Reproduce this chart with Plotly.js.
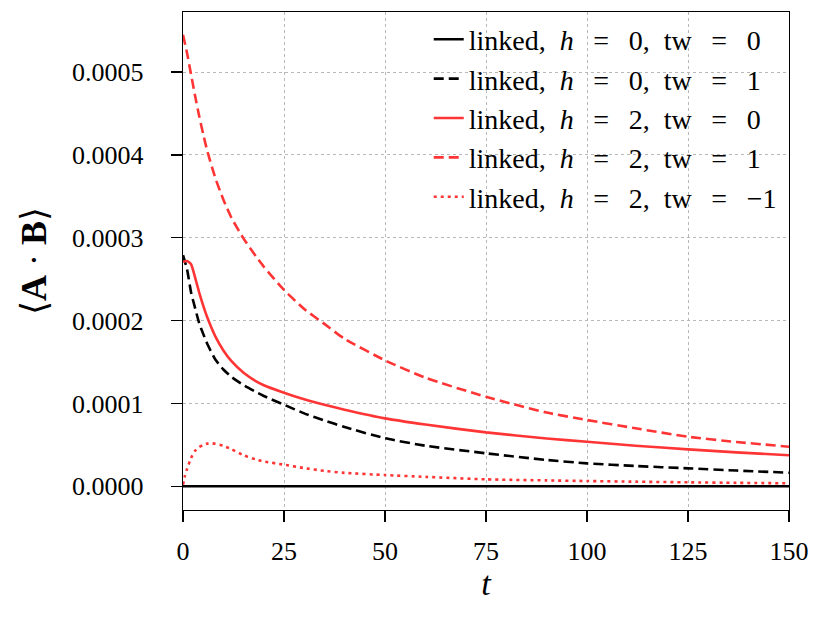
<!DOCTYPE html>
<html>
<head>
<meta charset="utf-8">
<script src="https://cdn.plot.ly/plotly-3.0.1.min.js"></script>
<style>
  body { margin: 0; background: white; }
  #chart { width: 830px; height: 623px; }
</style>
</head>
<body>
<div id="chart"></div>
<script>
// time grid
var t = [0, 1, 2, 3, 4, 5, 6, 8, 10, 12, 15, 18, 20, 25, 30, 35, 40, 50, 60, 75, 90, 100, 112, 125, 137, 150];
var tDot = [0, 0.5, 1, 2, 3, 4, 5, 6, 7, 8, 10, 12, 15, 18, 20, 25, 30, 35, 40, 50, 60, 75, 90, 100, 112, 125, 137, 150];
var tFlat = [0, 25, 50, 75, 100, 125, 150];

// <A.B> for each run
var h0tw0 = [0, 0, 0, 0, 0, 0, 0];
var h0tw1 = [0.000279, 0.000262, 0.000234, 0.000215, 0.000197, 0.000184, 0.000172, 0.000153, 0.000141, 0.000132,
             0.000122, 0.000114, 0.000109, 0.0000985, 0.0000880, 0.0000795, 0.0000715, 0.0000580, 0.0000490, 0.0000398,
             0.0000318, 0.0000277, 0.0000245, 0.0000217, 0.0000190, 0.0000164];
var h2tw0 = [0.000271, 0.000272, 0.000268, 0.000252, 0.000234, 0.000218, 0.000204, 0.000181, 0.000164, 0.000151,
             0.000137, 0.000127, 0.000122, 0.000113, 0.000105, 0.0000985, 0.0000925, 0.0000820, 0.0000745, 0.0000651,
             0.0000578, 0.0000538, 0.0000490, 0.0000446, 0.0000410, 0.0000374];
var h2tw1 = [0.000545, 0.000523, 0.000497, 0.000471, 0.000447, 0.000425, 0.000405, 0.000372, 0.000346, 0.000324,
             0.000299, 0.000278, 0.000265, 0.000237, 0.000214, 0.000196, 0.000178, 0.000152, 0.000131, 0.000108,
             0.0000890, 0.0000800, 0.0000700, 0.0000598, 0.0000535, 0.0000478];
var h2twm1 = [0.000002, 0.000013, 0.000021, 0.0000342, 0.0000429, 0.0000474, 0.0000500, 0.0000515, 0.0000520, 0.0000514,
              0.0000488, 0.0000447, 0.0000374, 0.0000325, 0.0000300, 0.0000261, 0.0000220, 0.0000186, 0.0000162, 0.0000136,
              0.0000114, 0.0000084, 0.0000071, 0.0000064, 0.0000056, 0.0000048, 0.0000042, 0.0000036];

var red = '#ff3535';
var serif = 'Liberation Serif, DejaVu Serif, serif';
var sp2 = '\u00a0\u00a0', eq = '\u00a0\u00a0\u2009=\u2009\u00a0\u00a0';

function label(h, tw) {
  return 'linked,' + sp2 + '<i>h</i>' + eq + h + ',' + sp2 + 'tw' + eq + tw;
}

var data = [
  {x: tFlat, y: h0tw0, name: label(0, 0), line: {color: 'black', width: 2.6}},
  {x: t, y: h0tw1, name: label(0, 1), line: {color: 'black', width: 2.6, dash: '10px,5px'}},
  {x: t, y: h2tw0, name: label(2, 0), line: {color: red, width: 2.6}},
  {x: t, y: h2tw1, name: label(2, 1), line: {color: red, width: 2.6, dash: '10px,5px'}},
  {x: tDot, y: h2twm1, name: label(2, '\u22121'), line: {color: red, width: 2.6, dash: '3px,4px'}}
];
data.forEach(function(d) { d.type = 'scatter'; d.mode = 'lines'; d.line.shape = 'spline'; d.line.smoothing = 0.5; });

var layout = {
  width: 830,
  height: 623,
  margin: {l: 183, r: 41, t: 12, b: 113},
  paper_bgcolor: 'white',
  plot_bgcolor: 'white',
  font: {family: serif, color: 'black', size: 26},
  showlegend: true,
  legend: {
    x: 0.988, xanchor: 'right', y: 0.995, yanchor: 'top',
    bgcolor: 'rgba(0,0,0,0)',
    font: {family: serif, size: 28},
    tracegroupgap: 0
  },
  xaxis: {
    range: [0, 150],
    tickvals: [0, 25, 50, 75, 100, 125, 150],
    ticks: 'outside', ticklen: 11, tickwidth: 1.3, tickcolor: 'black',
    ticklabelstandoff: 6,
    showline: true, mirror: true, linecolor: 'black', linewidth: 1.3,
    showgrid: true, gridcolor: '#b8b8b8', gridwidth: 1, griddash: 'dot',
    zeroline: false,
    tickfont: {family: serif, size: 26},
    title: {text: '<i>t</i>', font: {family: serif, size: 34}, standoff: 6}
  },
  yaxis: {
    range: [-0.0000286, 0.0005725],
    tickvals: [0, 0.0001, 0.0002, 0.0003, 0.0004, 0.0005],
    tickformat: '.4f',
    ticks: 'outside', ticklen: 11, tickwidth: 1.3, tickcolor: 'black',
    ticklabelstandoff: 22,
    showline: true, mirror: true, linecolor: 'black', linewidth: 1.3,
    showgrid: true, gridcolor: '#b8b8b8', gridwidth: 1, griddash: 'dot',
    zeroline: false,
    tickfont: {family: serif, size: 26},
    title: {text: '\u27e8<b>A</b> \u00b7 <b>B</b>\u27e9', font: {family: serif, size: 36}, standoff: 14}
  }
};

Plotly.newPlot('chart', data, layout, {displayModeBar: false, staticPlot: true});
</script>
</body>
</html>
